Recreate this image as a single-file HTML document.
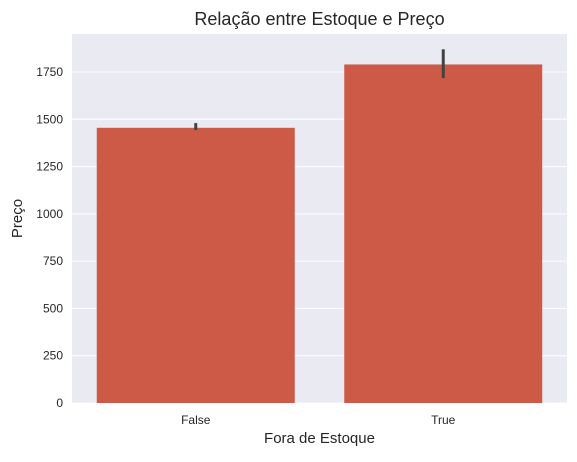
<!DOCTYPE html>
<html><head><meta charset="utf-8"><style>body{margin:0;background:#fff}svg text{font-family:"Liberation Sans",sans-serif}</style></head>
<body>
<svg id="c" width="577" height="457"></svg>
<script>
const categories=["False","True"];
const values=[1455,1790];
const errLow=[1443,1718];
const errHigh=[1480,1870];
const yTicks=[0,250,500,750,1000,1250,1500,1750];
const L=72,R=567,T=34,B=403,yMax=1951;
const ns="http://www.w3.org/2000/svg";
const svg=document.getElementById('c');
function y(v){return B-(v/yMax)*(B-T);}
const bw=(R-L)/categories.length;
function x(i){return L+bw*(i+0.5);}
function mk(t,a,txt){const e=document.createElementNS(ns,t);for(const k in a)e.setAttribute(k,a[k]);if(txt!==undefined)e.textContent=txt;svg.appendChild(e);return e;}
let e=mk('rect',{x:L,y:T,width:R-L,height:B-T,fill:'#eaeaf2'});


yTicks.forEach(v=>{
 let g=mk('line',{x1:L,x2:R,y1:y(v),y2:y(v),stroke:'#fff','stroke-width':1});
 
 
 let t=mk('text',{x:L-9,y:y(v)+4,'text-anchor':'end','font-size':'12',fill:'#262626'},v);
 
 
});
categories.forEach((c,i)=>{
 let r=mk('rect',{x:x(i)-bw*0.4,y:y(values[i]),width:bw*0.8,height:B-y(values[i]),fill:'#cd5a47'});
 
 
 let l=mk('line',{x1:x(i),x2:x(i),y1:y(errLow[i]),y2:y(errHigh[i]),stroke:'#424242','stroke-width':3});
 
 
 let t=mk('text',{x:x(i),y:B+21,'text-anchor':'middle','font-size':'12',fill:'#262626'},c);
 
 
});
e=mk('text',{x:(L+R)/2,y:25,'text-anchor':'middle','font-size':'18',fill:'#262626'},'Relação entre Estoque e Preço');


e=mk('text',{x:(L+R)/2,y:443,'text-anchor':'middle','font-size':'15',fill:'#262626'},'Fora de Estoque');


e=mk('text',{x:22,y:(T+B)/2,'text-anchor':'middle','font-size':'15',fill:'#262626',transform:'rotate(-90 22 '+(T+B)/2+')'},'Preço');


</script>
</body></html>
